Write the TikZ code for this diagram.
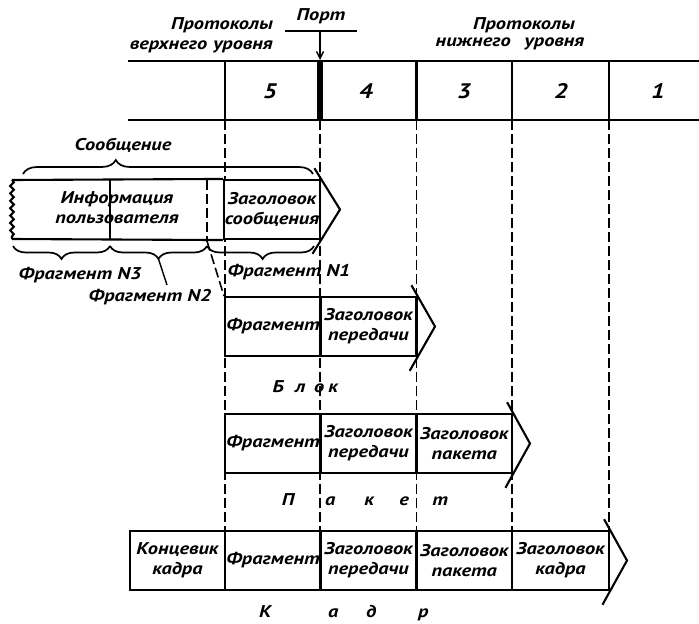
\documentclass[tikz,border=0pt]{standalone}
\usepackage{fontspec}
\newfontfamily\hand{PT Sans}[FakeStretch=1.2]
\usetikzlibrary{calc,decorations.pathreplacing,decorations.pathmorphing,arrows.meta}
\newcommand\chevr[3]{\draw[edge] ($(#3)!1.35!(#1)$) -- (#3) -- ($(#3)!1.45!(#2)$);}
\begin{document}
\begin{tikzpicture}[x=1pt,y=-1pt,
  font=\hand\bfseries\itshape\fontsize{17}{20}\selectfont,
  box/.style={draw, line width=2.1pt, minimum height=59pt, inner sep=0pt, align=center},
  guide/.style={line width=1.6pt, dash pattern=on 10pt off 4pt},
  edge/.style={line width=2.1pt},
  thinedge/.style={line width=1.4pt},
  lbl/.style={inner sep=0pt, align=center},
  num/.style={inner sep=0pt, font=\hand\bfseries\itshape\fontsize{21}{21}\selectfont},
  br/.style={decorate, line width=1.7pt}]
\useasboundingbox (0,0) rectangle (699,624);

% header table
\draw[edge] (128,61) -- (699,61);
\draw[edge] (128,120) -- (699,120);
\foreach \x in {225,416.5,512,609} \draw[edge] (\x,61) -- (\x,120);
\draw[line width=5.5pt] (320,61) -- (320,120);
\node[num] (n5) at (270,91) {5};
\node[num] (n4) at (366,91) {4};
\node[num] (n3) at (464,91) {3};
\node[num] (n2) at (561,91) {2};
\node[num] (n1) at (658,91) {1};

\node[lbl, anchor=east, align=right] (upper) at (273,35) {Протоколы\\верхнего\hspace{6pt}уровня};
\node[lbl] (lower1) at (524,25) {Протоколы};
\node[lbl] (lower2) at (510,44) {нижнего\hspace{14pt}уровня};
\node[lbl] (port) at (321,16) {Порт};
\coordinate (ul) at (285,31);
\coordinate (ur) at (357,31);
\coordinate (pa) at (320,31);
\coordinate (pb) at (320,60);
\draw[thinedge] (ul) -- (ur);
\draw[thinedge, -{Straight Barb[length=7pt,width=7pt]}] (pa) -- (pb);

% guide lines
\foreach \x in {225,320,416.5,512,609} \draw[guide] (\x,120) -- (\x,531);

% message
\node[box, minimum width=96pt, fill=white] (mhead) at (272,209.5) {Заголовок\\сообщения};
\coordinate (mtl) at (12,180);
\coordinate (mbl) at (12,239);
\draw[edge] (mhead.north west) -- (mtl);
\draw[edge] (mhead.south west) -- (mbl);
\draw[edge, decorate, decoration={snake, segment length=7.4pt, amplitude=1.8pt}] (mtl) -- (mbl);
\draw[line width=1.3pt] (110,180) -- (110,239);
\draw[guide] (207,180) -- (207,239);
\node[lbl] (info) at (117,208) {Информация\\пользователя};
\coordinate (mtip) at (340,209.5);
\chevr{mhead.north east}{mhead.south east}{mtip}
\draw[br, decoration={brace, amplitude=14pt, aspect=0.32}] (23,174) -- (313,174);
\node[lbl] (msg) at (123,145) {Сообщение};

% fragment braces
\draw[br, decoration={brace, mirror, amplitude=13pt}] (13,246) -- (110,246);
\draw[br, decoration={brace, mirror, amplitude=13pt}] (110,246) -- (207,246);
\draw[br, decoration={brace, mirror, amplitude=13pt, aspect=0.52}] (207,246) -- (314,246);
\node[lbl] (f3) at (80,275) {Фрагмент N3};
\node[lbl] (f2) at (150,297) {Фрагмент N2};
\node[lbl] (f1) at (289,272) {Фрагмент N1};
\coordinate (n2tip) at (158.5,259);
\coordinate (n2end) at (167,285);
\draw[thinedge] (n2tip) -- (n2end);

% block
\node[box, minimum width=96pt] (b1) at (273,326.5) {Фрагмент};
\node[box, minimum width=96pt] (b2) at (368.5,326.5) {Заголовок\\передачи};
\coordinate (btip) at (435,326.5);
\chevr{b2.north east}{b2.south east}{btip}
\coordinate (dstart) at (207,241);
\draw[guide] (dstart) -- (b1.north west);
\node[anchor=base west, inner sep=0pt] (blok) at (278,392) {\makebox[0pt]{Б}\hspace{22pt}\makebox[0pt]{л}\hspace{19pt}\makebox[0pt]{о}\hspace{14pt}\makebox[0pt]{к}};

% packet
\node[box, minimum width=96pt] (p1) at (273,443.5) {Фрагмент};
\node[box, minimum width=96pt] (p2) at (368.5,443.5) {Заголовок\\передачи};
\node[box, minimum width=95.5pt] (p3) at (464.25,443.5) {Заголовок\\пакета};
\coordinate (ptip) at (530,443.5);
\chevr{p3.north east}{p3.south east}{ptip}
\node[anchor=base west, inner sep=0pt] (paket) at (288,505) {\makebox[0pt]{П}\hspace{42pt}\makebox[0pt]{а}\hspace{39pt}\makebox[0pt]{к}\hspace{35pt}\makebox[0pt]{е}\hspace{36pt}\makebox[0pt]{т}};

% frame
\node[box, minimum width=95pt] (k1) at (177.5,560.5) {Концевик\\кадра};
\node[box, minimum width=96pt] (k2) at (273,560.5) {Фрагмент};
\node[box, minimum width=96pt] (k3) at (368.5,560.5) {Заголовок\\передачи};
\node[box, minimum width=95.5pt] (k4) at (464.25,560.5) {Заголовок\\пакета};
\node[box, minimum width=97pt] (k5) at (560.5,560.5) {Заголовок\\кадра};
\coordinate (ktip) at (627,560.5);
\chevr{k5.north east}{k5.south east}{ktip}
\node[anchor=base west, inner sep=0pt] (kadr) at (265,617) {\makebox[0pt]{К}\hspace{68pt}\makebox[0pt]{а}\hspace{38pt}\makebox[0pt]{д}\hspace{52pt}\makebox[0pt]{р}};
\end{tikzpicture}
\end{document}
